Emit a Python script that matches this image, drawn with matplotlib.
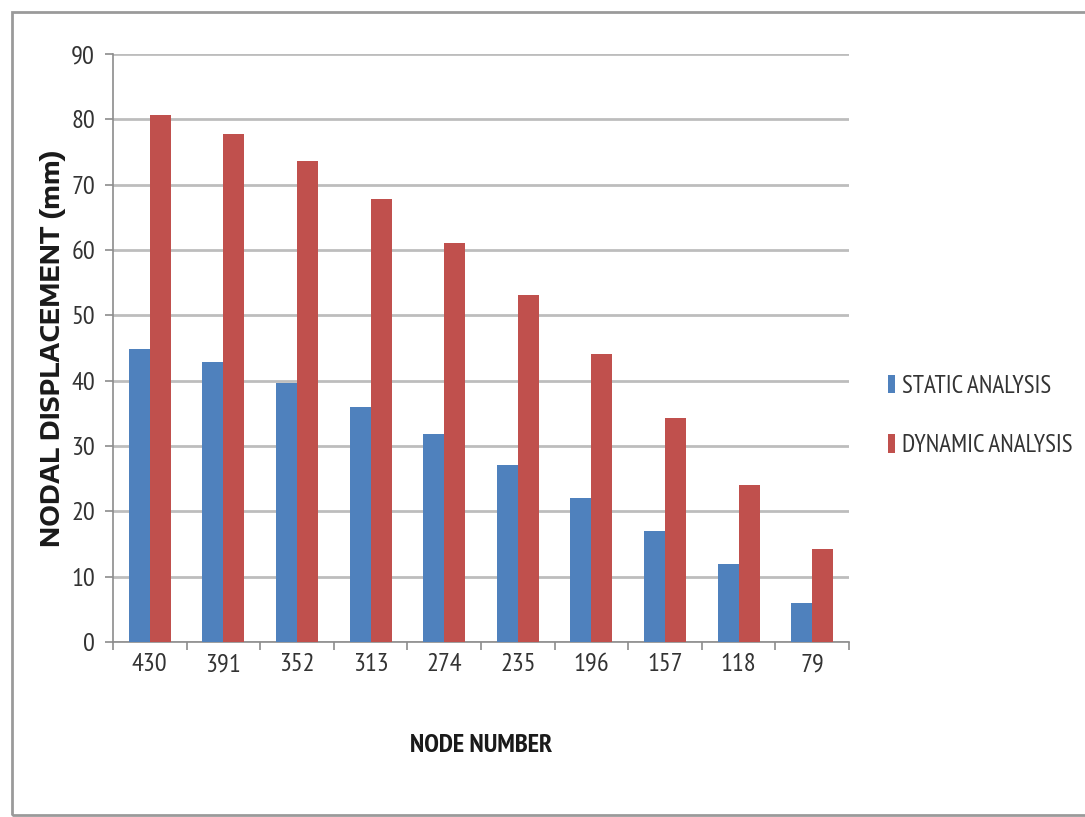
import matplotlib
matplotlib.use("Agg")
import matplotlib.pyplot as plt
from matplotlib.patches import Rectangle
import numpy as np

nodes = ["430", "391", "352", "313", "274", "235", "196", "157", "118", "79"]
static_analysis = [44.8, 42.8, 39.7, 35.9, 31.8, 27.1, 22.1, 17.0, 12.0, 6.0]
dynamic_analysis = [80.7, 77.8, 73.6, 67.8, 61.1, 53.1, 44.1, 34.3, 24.1, 14.2]
y_ticks = [0, 10, 20, 30, 40, 50, 60, 70, 80, 90]

NARROW = ["PT Sans Narrow", "DejaVu Sans"]
BLUE = "#4F81BD"
RED = "#C0504D"
GRID = "#BDBDBD"
TEXT = "#333333"

fig = plt.figure(figsize=(10.85, 8.17), dpi=100)
fig.patch.set_facecolor("white")

# outer chart frame
fig.patches.append(Rectangle((12 / 1085, 2 / 817), 1.2, 1 - 14 / 817,
                             transform=fig.transFigure, fill=False,
                             edgecolor="#9A9A9A", linewidth=2.0))

ax = fig.add_axes([113 / 1085, 1 - 642 / 817, (849 - 113) / 1085, (642 - 54) / 817])

x = np.arange(len(nodes))
w = 0.2857
ax.bar(x - w / 2, static_analysis, width=w, color=BLUE, label="STATIC ANALYSIS", zorder=3)
ax.bar(x + w / 2, dynamic_analysis, width=w, color=RED, label="DYNAMIC ANALYSIS", zorder=3)

ax.set_xlim(-0.5, len(nodes) - 0.5)
ax.set_ylim(0, 90)
ax.set_yticks(y_ticks)
ax.set_yticklabels([str(v) for v in y_ticks], fontfamily=NARROW, fontsize=19, color=TEXT)
ax.yaxis.grid(True, color=GRID, linewidth=2.0, zorder=0)
ax.set_axisbelow(True)

ax.set_xticks(x)
ax.set_xticklabels(nodes, fontfamily=NARROW, fontsize=19, color=TEXT)
ax.tick_params(axis="x", which="major", length=0, pad=8)
ax.set_xticks(np.arange(-0.5, len(nodes), 1.0), minor=True)
ax.tick_params(axis="x", which="minor", length=6, width=1.2, color="#8C8C8C", direction="out")
ax.tick_params(axis="y", length=6, width=1.2, color="#8C8C8C", pad=7)

for side in ["top", "right"]:
    ax.spines[side].set_visible(False)
for side in ["left", "bottom"]:
    ax.spines[side].set_color("#8C8C8C")
    ax.spines[side].set_linewidth(1.2)

ax.set_ylabel("NODAL DISPLACEMENT (mm)", fontfamily=["Encode Sans Expanded", "DejaVu Sans"],
              fontweight="bold", fontsize=17.5, color="#1A1A1A", labelpad=4)
ax.set_xlabel("NODE NUMBER", fontfamily=NARROW, fontweight="bold",
              fontsize=19, color="#1A1A1A", labelpad=42)

leg = fig.legend(loc="upper left", bbox_to_anchor=(878 / 1085, 1 - 365 / 817),
                 frameon=False, prop={"family": NARROW, "size": 18},
                 handlelength=0.28, handleheight=0.75, handletextpad=0.3,
                 labelspacing=1.45, borderaxespad=0)
for t in leg.get_texts():
    t.set_color(TEXT)

fig.savefig("out.png", dpi=100, facecolor="white")
